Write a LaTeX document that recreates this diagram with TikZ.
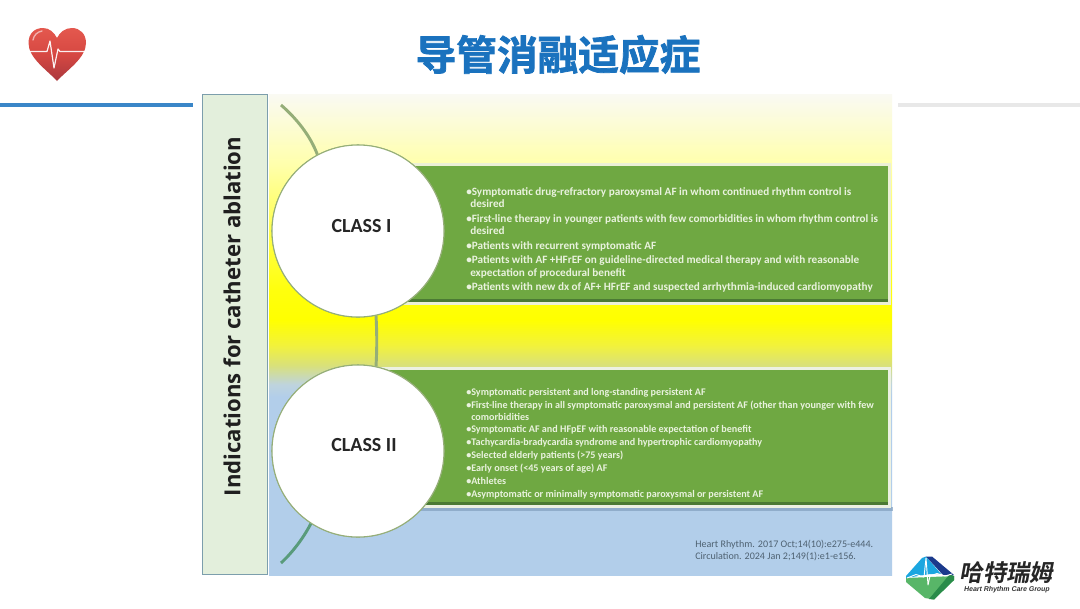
\documentclass[tikz,border=0pt]{standalone}
\usepackage{fontspec}
\setmainfont{Carlito}
\newfontfamily\cjk{Noto Sans CJK SC}[BoldFont={* Bold},BoldFeatures={FakeBold=1.8}]
\newfontfamily\cjklogo{Noto Sans CJK SC}[BoldFont={* Bold}]
\newfontfamily\opens{Open Sans}
\newfontfamily\lib{Liberation Sans}
\definecolor{bgblue}{HTML}{B2CEEA}
\definecolor{boxgreen}{HTML}{6FA842}
\definecolor{boxdark}{HTML}{4B7A34}
\definecolor{itemtext}{HTML}{E9F2DE}
\definecolor{ringline}{HTML}{95AE78}
\definecolor{sidefill}{HTML}{E3EFDC}
\definecolor{sideline}{HTML}{7C9EAC}
\definecolor{reftext}{HTML}{4F6272}
\pgfdeclareverticalshading{bandshade}{100bp}{
 color(0bp)=(bgblue); color(25bp)=(bgblue); color(43.5bp)=(bgblue);
 rgb(44.8bp)=(0.745,0.83,0.87);
 rgb(46.8bp)=(0.85,0.88,0.48);
 rgb(48.9bp)=(0.95,0.95,0.23);
 rgb(51.5bp)=(1,1,0);
 rgb(54.6bp)=(1,1,0.05);
 rgb(60.9bp)=(1,1,0.31);
 rgb(67.6bp)=(1,1,0.67);
 rgb(75bp)=(0.98,0.98,0.955);
 rgb(100bp)=(0.98,0.98,0.955)}
\tikzset{
 x=0.75pt,y=-0.75pt,
 classring/.style={circle,draw=ringline,line width=0.8pt,fill=white,minimum size=129pt,inner sep=0pt},
 classlabel/.style={inner sep=0pt,text=black!85,font=\bfseries\fontsize{15pt}{15pt}\selectfont},
 branch/.style={line width=2.2pt,color=ringline},
 item/.style={anchor=base west,inner sep=0pt,text=itemtext,font=\bfseries\fontsize{8.4pt}{9pt}\selectfont},
 itemb/.style={anchor=base west,inner sep=0pt,text=itemtext,font=\bfseries\fontsize{7.6pt}{9pt}\selectfont},
 refs/.style={anchor=base west,inner sep=0pt,text=reftext,font=\fontsize{7.55pt}{9pt}\selectfont},
}
\begin{document}
\begin{tikzpicture}
\useasboundingbox (0,0) rectangle (1080,608);
\fill[white] (0,0) rectangle (1080,608);
% top rules
\fill[color={rgb,255:red,58;green,134;blue,200}] (0,102.5) rectangle (193,107);
\fill[black!9] (898,102.5) rectangle (1080,106.5);
% heart
\path[shade,top color={rgb,255:red,228;green,88;blue,78},bottom color={rgb,255:red,170;green,56;blue,62},middle color={rgb,255:red,214;green,72;blue,66}]
 (57,81) .. controls (47,70) and (28.5,58) .. (28.5,43)
 .. controls (28.5,33) and (35,28) .. (43,28)
 .. controls (49,28) and (54,32) .. (57,38)
 .. controls (60,32) and (65,28) .. (72,28)
 .. controls (80,28) and (86,34) .. (86,43)
 .. controls (86,58) and (67,70) .. (57,81) -- cycle;
\draw[white,line width=0.9pt,line join=round,opacity=.92]
 (29,51.5) -- (47,51.5) -- (50,41) -- (54,68) -- (58,49) -- (60,51.5) -- (85.5,51.5);
\draw[white,opacity=.55,line width=1pt,line cap=round] (33,40) .. controls (34,35) and (37,32) .. (42,31);
% title
\node[inner sep=0pt,text={rgb,255:red,26;green,114;blue,190},font=\cjk\bfseries\fontsize{30.5pt}{30pt}\selectfont] (title) at (558,54.5) {导管消融适应症};
% band
\path[shading=bandshade] (269,94) rectangle (892,575);
% side panel
\node[draw=sideline,line width=1pt,fill=sidefill,minimum width=48.5pt,minimum height=360pt,inner sep=0pt] (side) at (235,334.5) {};
\node[rotate=90,inner sep=0pt,text=black!88,font=\opens\bfseries\fontsize{16.6pt}{17pt}\selectfont] (sidetext) at (232,316.5) {Indications for catheter ablation};
% green panels
\fill[color={rgb,255:red,236;green,240;blue,214}] (375,163) rectangle (891,304.5);
\node[fill=boxgreen,minimum width=384.75pt,minimum height=102pt,inner sep=0pt] (panelA) at (631.5,234) {};
\fill[boxdark] (375,299) rectangle (888,302);
\fill[color={rgb,255:red,130;green,160;blue,190},opacity=.7] (375,507) rectangle (893,510.5);
\fill[color={rgb,255:red,236;green,241;blue,226}] (375,367) rectangle (891,507.5);
\node[fill=boxgreen,minimum width=384.75pt,minimum height=101pt,inner sep=0pt] (panelB) at (631.5,437.5) {};
\fill[boxdark] (375,502) rectangle (888,505);
% branches and rings
\coordinate (topend) at (281,105);
\coordinate (botend) at (281,563);
\node[classring] (c1) at (358,231) {};
\node[classring] (c2) at (358,451) {};
\draw[branch] (topend) .. controls (296,118) and (310,135) .. (c1.118);
\draw[branch] (c1.-78) .. controls (377,333) and (377,350) .. (c2.78);
\draw[branch,color=ringline!60!teal] (botend) .. controls (293,552) and (304,537) .. (c2.-123);
\node[classring] (c1top) at (358,231) {};
\node[classring] (c2top) at (358,451) {};
\node[classlabel] (lab1) at (361.5,226) {CLASS I};
\node[classlabel] (lab2) at (364,445) {CLASS II};
% class I items
\node[item] (a1) at (466,195) {•Symptomatic drug-refractory paroxysmal AF in whom continued rhythm control is};
\node[item] (a1b) at (470,207) {desired};
\node[item] (a2) at (466,222) {•First-line therapy in younger patients with few comorbidities in whom rhythm control is};
\node[item] (a2b) at (470,234) {desired};
\node[item] (a3) at (466,249) {•Patients with recurrent symptomatic AF};
\node[item] (a4) at (466,263.5) {•Patients with AF +HFrEF on guideline-directed medical therapy and with reasonable};
\node[item] (a4b) at (470,276) {expectation of procedural benefit};
\node[item] (a5) at (466,290) {•Patients with new dx of AF+ HFrEF and suspected arrhythmia-induced cardiomyopathy};
% class II items
\node[itemb] (b1) at (466,395) {•Symptomatic persistent and long-standing persistent AF};
\node[itemb] (b2) at (466,408) {•First-line therapy in all symptomatic paroxysmal and persistent AF (other than younger with few};
\node[itemb] (b2b) at (471,420) {comorbidities};
\node[itemb] (b3) at (466,432.5) {•Symptomatic AF and HFpEF with reasonable expectation of benefit};
\node[itemb] (b4) at (466,445.5) {•Tachycardia-bradycardia syndrome and hypertrophic cardiomyopathy};
\node[itemb] (b5) at (466,458.5) {•Selected elderly patients (>75 years)};
\node[itemb] (b6) at (466,471.5) {•Early onset (<45 years of age) AF};
\node[itemb] (b7) at (466,484) {•Athletes};
\node[itemb] (b8) at (466,497.5) {•Asymptomatic or minimally symptomatic paroxysmal or persistent AF};
% references
\node[refs] (r1) at (695,547) {Heart Rhythm. 2017 Oct;14(10):e275-e444.};
\node[refs] (r2) at (695,559) {Circulation. 2024 Jan 2;149(1):e1-e156.};
% logo
\fill[color={rgb,255:red,88;green,182;blue,104}] (906,578) -- (906,582) -- (925,598) -- (934,599.5) -- (954,580) -- (954,576) -- cycle;
\fill[color={rgb,255:red,42;green,140;blue,74}] (954,576) -- (954,580) -- (934,599.5) -- (929,599) -- (950,574) -- cycle;
\fill[color={rgb,255:red,27;green,166;blue,224}] (906,576) -- (922,558) -- (926,556.5) -- (941,574) -- (930,574) -- (906,578) -- cycle;
\fill[color={rgb,255:red,27;green,58;blue,140}] (926,556.5) -- (932,556.5) -- (954,575) -- (943,575) -- cycle;
\draw[white,line width=0.7pt,line join=round] (907,578) -- (916,574.5) -- (924,577) -- (926,558) -- (928,585) -- (930,576) -- (937,573.5) -- (945,576) -- (952,574);
\node[inner sep=0pt,transform shape,xslant=0.18,text=black!85,font=\cjklogo\bfseries\fontsize{17.5pt}{18pt}\selectfont] (logoa) at (1008,572.5) {哈特瑞姆};
\node[inner sep=0pt,transform shape,xslant=0.18,text=black!80,font=\lib\bfseries\fontsize{5.2pt}{6pt}\selectfont] (logob) at (1007,590) {Heart Rhythm Care Group};
\end{tikzpicture}
\end{document}
